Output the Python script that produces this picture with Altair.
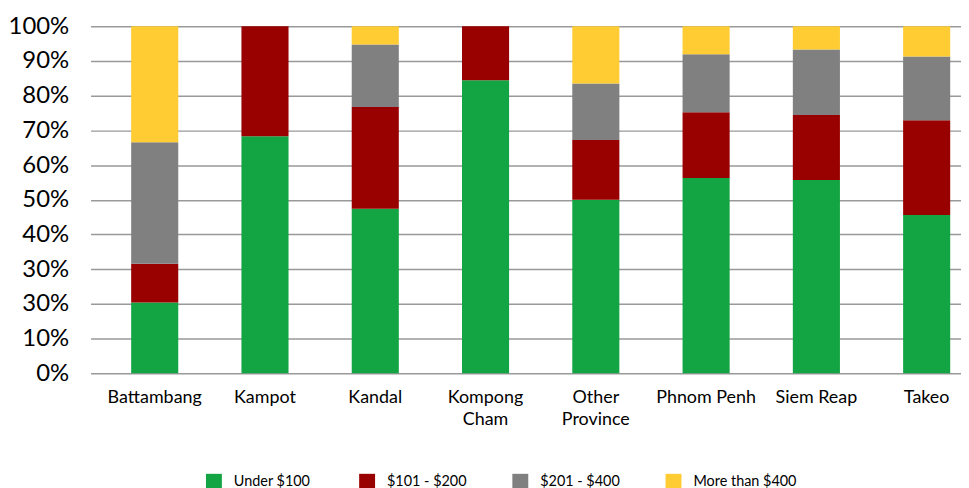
import altair as alt
import pandas as pd

provinces = ["Battambang", "Kampot", "Kandal", "Kompong Cham", "Other Province",
             "Phnom Penh", "Siem Reap", "Takeo"]
series = ["Under $100", "$101 - $200", "$201 - $400", "More than $400"]
colors = ["#13a543", "#990000", "#808080", "#ffcc33"]

under_100 = [20.4, 68.3, 47.4, 84.4, 50.0, 56.3, 55.7, 45.6]
s101_200 = [11.2, 31.7, 29.3, 15.6, 17.2, 18.9, 18.7, 27.3]
s201_400 = [35.0, 0.0, 18.0, 0.0, 16.3, 16.7, 18.9, 18.4]
more_400 = [33.4, 0.0, 5.3, 0.0, 16.5, 8.1, 6.7, 8.7]

tick_values = [0, 10, 20, 30, 40, 50, 60, 70, 80, 90, 100]
tick_labels = ["0%", "10%", "30%", "30%", "40%", "50%", "60%", "70%", "80%", "90%", "100%"]

rows = []
for si, (name, vals) in enumerate(zip(series, [under_100, s101_200, s201_400, more_400])):
    for p, v in zip(provinces, vals):
        rows.append({"province": p, "series": name, "idx": si, "value": v})
df = pd.DataFrame(rows)

label_map = "{" + ",".join(f"'{v}':'{l}'" for v, l in zip(tick_values, tick_labels)) + "}"

chart = alt.Chart(df).mark_bar().encode(
    x=alt.X("province:N", sort=provinces, title=None,
            scale=alt.Scale(paddingInner=0.573, paddingOuter=0.233, align=0.79),
            axis=alt.Axis(labelAngle=0, labelFont="Lato", labelFontSize=18,
                          labelColor="#000", labelPadding=15, labelLineHeight=22,
                          ticks=False, domain=False, labelLimit=200,
                          labelExpr="datum.label == 'Kompong Cham' ? ['Kompong','Cham'] : datum.label == 'Other Province' ? ['Other','Province'] : datum.label")),
    y=alt.Y("value:Q", stack="zero", title=None,
            scale=alt.Scale(domain=[0, 100], nice=False),
            axis=alt.Axis(values=tick_values, labelFont="Lato", labelFontSize=24,
                          labelColor="#000", labelPadding=22, ticks=False, domain=False,
                          gridColor="#999999", gridWidth=1.5,
                          labelExpr=label_map + "[datum.value]")),
    color=alt.Color("series:N", sort=series,
                    scale=alt.Scale(domain=series, range=colors),
                    legend=alt.Legend(title=None, orient="none", direction="horizontal",
                                      legendX=116, legendY=450, columns=4, gridAlign="all",
                                      symbolType="square", symbolSize=256,
                                      symbolStrokeWidth=0, symbolOpacity=1,
                                      labelFont="Lato", labelFontSize=14.5,
                                      labelColor="#000", labelOffset=12,
                                      columnPadding=22)),
    order=alt.Order("idx:Q", sort="ascending"),
).properties(
    width=875, height=349,
    padding={"left": 0, "top": 5, "right": 0, "bottom": 0},
).configure_view(stroke=None)

chart.save("out.html", embed_options={"renderer": "svg", "actions": False})
